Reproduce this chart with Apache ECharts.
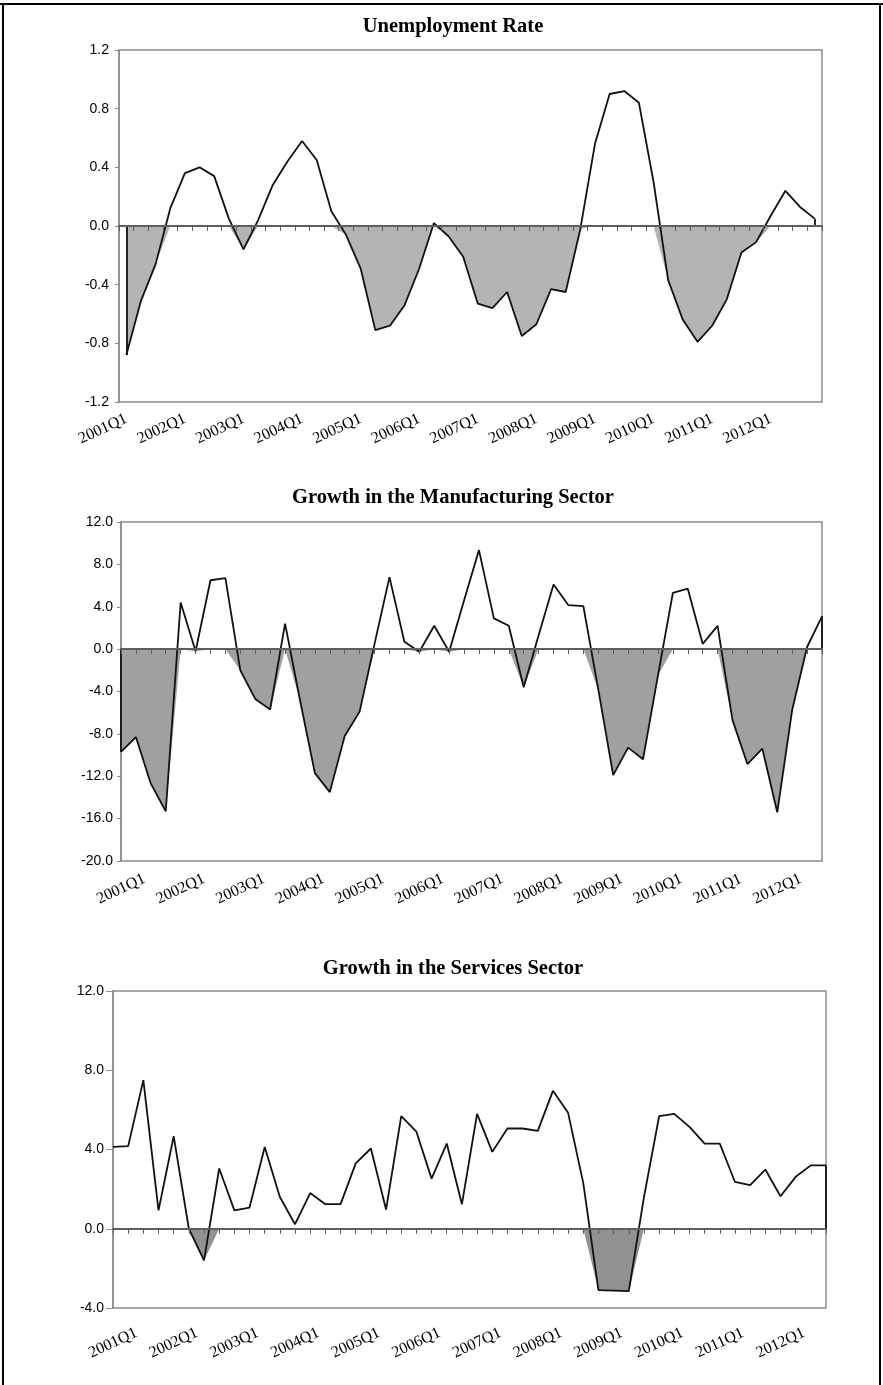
<!DOCTYPE html>
<html>
<head>
<meta charset="utf-8">
<script src="https://cdn.jsdelivr.net/npm/echarts@6/dist/echarts.min.js"></script>
<style>
html, body { margin: 0; padding: 0; background: #fff; }
#chart { width: 883px; height: 1385px; }
</style>
</head>
<body>
<div id="chart"></div>
<script>
var quarters = [
  '2001Q1','2001Q2','2001Q3','2001Q4','2002Q1','2002Q2','2002Q3','2002Q4',
  '2003Q1','2003Q2','2003Q3','2003Q4','2004Q1','2004Q2','2004Q3','2004Q4',
  '2005Q1','2005Q2','2005Q3','2005Q4','2006Q1','2006Q2','2006Q3','2006Q4',
  '2007Q1','2007Q2','2007Q3','2007Q4','2008Q1','2008Q2','2008Q3','2008Q4',
  '2009Q1','2009Q2','2009Q3','2009Q4','2010Q1','2010Q2','2010Q3','2010Q4',
  '2011Q1','2011Q2','2011Q3','2011Q4','2012Q1','2012Q2','2012Q3','2012Q4'
];

var unemployment = [
  -0.88, -0.51, -0.26, 0.12, 0.36, 0.40, 0.34, 0.05,
  -0.16, 0.04, 0.28, 0.44, 0.58, 0.45, 0.10, -0.06,
  -0.29, -0.71, -0.68, -0.54, -0.29, 0.02, -0.07, -0.21,
  -0.53, -0.56, -0.45, -0.75, -0.67, -0.43, -0.45, -0.02,
  0.56, 0.90, 0.92, 0.84, 0.30, -0.37, -0.64, -0.79,
  -0.68, -0.50, -0.18, -0.11, 0.07, 0.24, 0.13, 0.05
];

var manufacturing = [
  -9.7, -8.3, -12.7, -15.3, 4.4, -0.2, 6.5, 6.7,
  -2.0, -4.7, -5.7, 2.4, -4.8, -11.7, -13.5, -8.2,
  -5.9, 0.5, 6.8, 0.7, -0.25, 2.2, -0.25, 4.6,
  9.35, 2.9, 2.2, -3.6, 1.3, 6.1, 4.15, 4.05,
  -3.8, -11.9, -9.3, -10.4, -2.5, 5.3, 5.7, 0.5,
  2.2, -6.7, -10.85, -9.4, -15.4, -5.75, 0.2, 3.1
];

var services = [
  4.13, 4.17, 7.5, 0.93, 4.67, 0.0, -1.6, 3.04,
  0.93, 1.07, 4.13, 1.6, 0.23, 1.8, 1.24, 1.24,
  3.3, 4.05, 0.97, 5.68, 4.9, 2.53, 4.3, 1.24,
  5.8, 3.88, 5.06, 5.06, 4.94, 6.96, 5.85, 2.3,
  -3.1, -3.12, -3.15, 1.6, 5.68, 5.8, 5.14, 4.3,
  4.3, 2.36, 2.2, 2.99, 1.64, 2.62, 3.2, 3.2
];

var titles = ['Unemployment Rate', 'Growth in the Manufacturing Sector', 'Growth in the Services Sector'];

var panels = [
  { values: unemployment, min: -1.2, max: 1.2, step: 0.4, gap: true,
    grid: { left: 119, top: 50, width: 703, height: 352 }, titleY: 27,
    fill: '#b4b4b4', tick: 4, yMargin: 10, xMargin: 16, centered: false, ends: [true, true] },
  { values: manufacturing, min: -20, max: 12, step: 4, gap: false,
    grid: { left: 121, top: 522, width: 701, height: 339 }, titleY: 498,
    fill: '#a0a0a0', tick: 4, yMargin: 8, xMargin: 28, centered: true, ends: [true, true] },
  { values: services, min: -4, max: 12, step: 4, gap: false,
    grid: { left: 113, top: 991, width: 713, height: 317 }, titleY: 969,
    fill: '#929292', tick: 7, yMargin: 9, xMargin: 35, centered: true, ends: [false, true] }
];

var grids = [], xAxes = [], yAxes = [], series = [], graphics = [];

panels.forEach(function (p, i) {
  grids.push({
    left: p.grid.left, top: p.grid.top, width: p.grid.width, height: p.grid.height,
    show: true, borderColor: '#8c8c8c', borderWidth: 1.5, backgroundColor: '#fff'
  });

  // labels along the bottom
  var lbl = {
    interval: 3, rotate: 25, margin: p.xMargin, color: '#000',
    fontFamily: '"Liberation Serif", "Times New Roman", serif', fontSize: 16
  };
  if (p.centered) { lbl.align = 'center'; lbl.verticalAlign = 'middle'; }
  xAxes.push({
    type: 'category', gridIndex: i, data: quarters, boundaryGap: p.gap, position: 'bottom',
    axisLine: { show: false, onZero: false }, axisTick: { show: false }, axisLabel: lbl,
    splitLine: { show: false }
  });
  // zero line with ticks
  xAxes.push({
    type: 'category', gridIndex: i, data: quarters, boundaryGap: p.gap, position: 'top', z: 5,
    axisLine: { show: true, onZero: true, lineStyle: { color: '#5e5e5e', width: 2 } },
    axisTick: { show: true, inside: true, interval: 0, length: 5, lineStyle: { color: '#5e5e5e', width: 1 } },
    axisLabel: { show: false }, splitLine: { show: false }
  });

  yAxes.push({
    type: 'value', gridIndex: i, min: p.min, max: p.max, interval: p.step,
    axisLine: { show: true, onZero: false, lineStyle: { color: '#8c8c8c', width: 1.5 } },
    axisTick: { show: true, length: p.tick, lineStyle: { color: '#8c8c8c' } },
    splitLine: { show: false },
    axisLabel: {
      margin: p.yMargin, color: '#000', fontSize: 14,
      fontFamily: '"Liberation Sans", Arial, sans-serif',
      formatter: function (v) { return v.toFixed(1); }
    }
  });

  var neg = p.values.map(function (v) { return Math.min(v, 0); });
  series.push({
    type: 'line', xAxisIndex: i * 2, yAxisIndex: i, data: neg, showSymbol: false, z: 1,
    lineStyle: { width: 0 }, areaStyle: { color: p.fill, opacity: 1 }, silent: true
  });

  var last = p.values.length - 1;
  var edgeLines = [];
  if (p.ends[0]) edgeLines.push([{ coord: [quarters[0], 0] }, { coord: [quarters[0], p.values[0]] }]);
  if (p.ends[1]) edgeLines.push([{ coord: [quarters[last], 0] }, { coord: [quarters[last], p.values[last]] }]);

  series.push({
    type: 'line', xAxisIndex: i * 2, yAxisIndex: i, data: p.values, showSymbol: false, z: 3,
    lineStyle: { color: '#111', width: 1.8 },
    markLine: {
      silent: true, symbol: 'none', label: { show: false },
      lineStyle: { color: '#111', width: 1.8, type: 'solid' },
      data: edgeLines
    }
  });

  graphics.push({
    type: 'text', x: 453, y: p.titleY,
    style: {
      text: titles[i], fill: '#000', align: 'center', verticalAlign: 'middle',
      font: 'bold 20.5px "Liberation Serif", "Times New Roman", serif'
    }
  });
});

// outer frame
graphics.push({ type: 'line', shape: { x1: 0, y1: 4, x2: 883, y2: 4 }, style: { stroke: '#000', lineWidth: 2 } });
graphics.push({ type: 'line', shape: { x1: 3, y1: 4, x2: 3, y2: 1385 }, style: { stroke: '#000', lineWidth: 2 } });
graphics.push({ type: 'line', shape: { x1: 880, y1: 4, x2: 880, y2: 1385 }, style: { stroke: '#000', lineWidth: 2 } });

var chart = echarts.init(document.getElementById('chart'));
chart.setOption({
  backgroundColor: '#fff',
  animation: false,
  grid: grids,
  xAxis: xAxes,
  yAxis: yAxes,
  series: series,
  graphic: graphics
});
</script>
</body>
</html>
